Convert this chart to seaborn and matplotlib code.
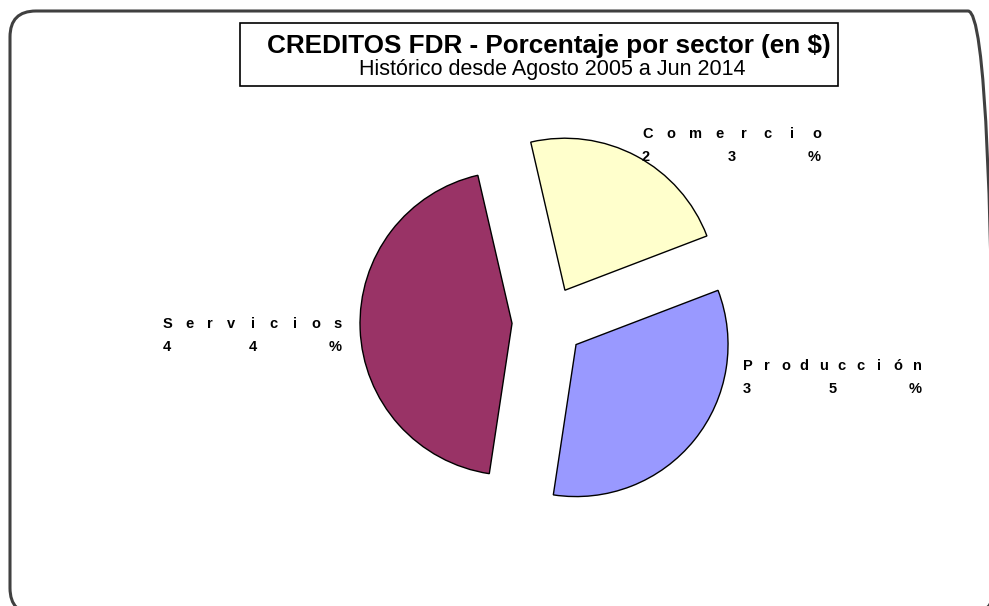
import seaborn as sns
import matplotlib.pyplot as plt
from matplotlib.patches import FancyBboxPatch, Rectangle

# data
sectors = ['Comercio', 'Producción', 'Servicios']
shares = [22.8, 33.2, 44.0]          # slice sizes as drawn
share_labels = ['23', '35', '44']    # percentages as printed on the chart
colors = ['#FFFFCC', '#9999FF', '#993366']

title = 'CREDITOS FDR - Porcentaje por sector (en $)'
subtitle = 'Histórico desde Agosto 2005 a Jun 2014'

sns.set_theme(style='white')
plt.rcParams['font.family'] = ['Liberation Sans', 'DejaVu Sans']
plt.rcParams['text.color'] = 'black'

W, H = 989, 606
fig = plt.figure(figsize=(W / 100, H / 100), dpi=100)
ax = fig.add_axes([0, 0, 1, 1])

# pie in pixel-like coords (y up), explode is in data units
cx, cy, r = 548, H - 322, 152
ax.pie(shares, colors=colors, startangle=103, counterclock=False,
       center=(cx, cy), radius=r, explode=[36] * 3,
       wedgeprops=dict(edgecolor='black', linewidth=1))
ax.set_xlim(0, W)
ax.set_ylim(0, H)
ax.set_aspect('equal')
ax.axis('off')

# outer frame (runs off the right and bottom edges)
frame = FancyBboxPatch((10, -8), 984, H - 10 + 8 - 1,
                       boxstyle='round,pad=0,rounding_size=26',
                       fill=False, edgecolor='#404040', linewidth=2.2,
                       clip_on=False)
ax.add_patch(frame)

# title box
ax.add_patch(Rectangle((240, H - 86), 598, 63, fill=False,
                       edgecolor='black', linewidth=1.2))
ax.text(549, H - 46, title, ha='center', va='center', fontsize=18.8,
        fontweight='bold')
ax.text(552, H - 70, subtitle, ha='center', va='center', fontsize=15.5)


# justified labels, letters spread across a fixed width like the original
def spread(text, x0, y, width):
    n = len(text)
    for i, ch in enumerate(text):
        if i == 0:
            x, ha = x0, 'left'
        elif i == n - 1:
            x, ha = x0 + width, 'right'
        else:
            x, ha = x0 + 5 + (width - 10) * i / (n - 1), 'center'
        ax.text(x, y, ch, ha=ha, va='baseline', fontsize=10.5,
                fontweight='bold', color='black')


label_pos = {'Comercio': (642, 138), 'Producción': (743, 370),
             'Servicios': (163, 328)}
for name, val in zip(sectors, share_labels):
    x0, yb = label_pos[name]
    spread(name, x0, H - yb, 179)
    spread(f'{val}%', x0, H - yb - 23, 179)

fig.savefig('out.png', dpi=100)
